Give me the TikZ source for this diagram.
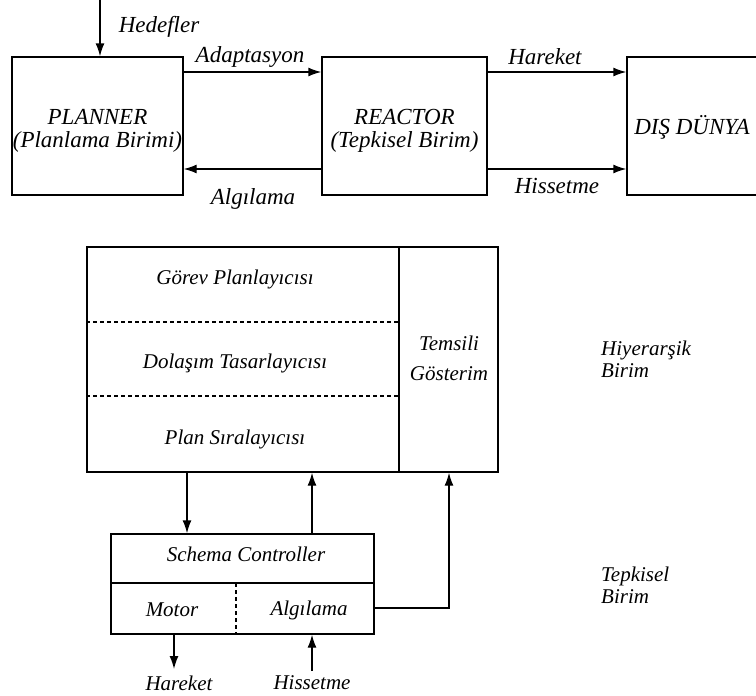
\documentclass[tikz,border=0pt]{standalone}
\usepackage{fontspec}
\setmainfont{Liberation Serif}
\usetikzlibrary{arrows.meta}
\begin{document}
\begin{tikzpicture}[x=1pt,y=-1pt,
  box/.style={draw, line width=1.4pt, rectangle, inner sep=0pt},
  lbl/.style={font=\fontsize{23}{23}\selectfont\itshape, inner sep=0pt, align=center},
  sl/.style={font=\fontsize{21}{30}\selectfont\itshape, inner sep=0pt, align=center},
  sr/.style={font=\fontsize{21}{22}\selectfont\itshape, inner sep=0pt, align=left, anchor=west},
  arr/.style={line width=1.4pt, -{Latex[length=13pt,width=9pt]}},
  ln/.style={line width=1.4pt},
  dsh/.style={line width=1.2pt, dash pattern=on 4pt off 3pt}]
\useasboundingbox (0,0) rectangle (756,696);
\clip (0,0) rectangle (756,696);
% ---------- top row ----------
\node[box, minimum width=171pt, minimum height=138pt] (planner) at (97.5,126) {};
\node[lbl] (plannertxt) at (97.5,131) {PLANNER\\(Planlama Birimi)};
\node[box, minimum width=165pt, minimum height=138pt] (reactor) at (404.5,126) {};
\node[lbl] (reactortxt) at (404.5,131) {REACTOR\\(Tepkisel Birim)};
\node[box, minimum width=134pt, minimum height=138pt] (dunya) at (694,126) {};
\node[lbl] (dunyatxt) at (692,127) {DIŞ DÜNYA};
\coordinate (yA) at (0,72);
\coordinate (yB) at (0,169);
\coordinate (hedtop) at (100,0);
\draw[arr] (hedtop) -- (hedtop |- planner.north);
\node[lbl] (hedefler) at (159,27) {Hedefler};
\draw[arr] (planner.east |- yA) -- (reactor.west |- yA);
\node[lbl] (adapt) at (250,57) {Adaptasyon};
\draw[arr] (reactor.west |- yB) -- (planner.east |- yB);
\node[lbl] (algtop) at (253,199) {Algılama};
\draw[arr] (reactor.east |- yA) -- (dunya.west |- yA);
\node[lbl] (harektop) at (545,57) {Hareket};
\draw[arr] (reactor.east |- yB) -- (dunya.west |- yB);
\node[lbl] (hisstop) at (557,186) {Hissetme};
% ---------- hierarchical unit ----------
\node[box, minimum width=411pt, minimum height=225pt] (hier) at (292.5,359.5) {};
\coordinate (divT) at (399,247);
\draw[ln] (divT) -- (divT |- hier.south);
\draw[dsh] (hier.west |- 0,322) -- (399,322);
\draw[dsh] (hier.west |- 0,396) -- (399,396);
\node[sl] (gorev) at (235,279) {Görev Planlayıcısı};
\node[sl] (dolasim) at (235,363) {Dolaşım Tasarlayıcısı};
\node[sl] (plansira) at (235,439) {Plan Sıralayıcısı};
\node[sl] (temsili) at (449,358) {Temsili\\Gösterim};
\node[sr] (hiyer) at (601,359) {Hiyerarşik\\Birim};
\node[sr] (tepk) at (601,585) {Tepkisel\\Birim};
% ---------- schema controller ----------
\node[box, minimum width=263pt, minimum height=100pt] (schema) at (242.5,584) {};
\draw[ln] (schema.west |- 0,583) -- (schema.east |- 0,583);
\draw[dsh] (236,583) -- (236,634);
\node[sl] (schemactl) at (246,554) {Schema Controller};
\node[sl] (motor) at (172,610) {Motor};
\node[sl] (algbot) at (309,610) {Algılama};
% connectors
\coordinate (xa) at (187,0);
\coordinate (xb) at (312,0);
\coordinate (xc) at (449,0);
\coordinate (yC) at (0,608);
\draw[arr] (hier.south -| xa) -- (schema.north -| xa);
\draw[arr] (schema.north -| xb) -- (hier.south -| xb);
\draw[arr] (schema.east |- yC) -| (hier.south -| xc);
\node[sl] (harekbot) at (179,683) {Hareket};
\node[sl] (hissbot) at (312,683) {Hissetme};
\coordinate (hk) at (174,0);
\draw[arr] (schema.south -| hk) -- (hk |- 0,669);
\draw[arr] (xb |- 0,671) -- (schema.south -| xb);
\end{tikzpicture}
\end{document}
